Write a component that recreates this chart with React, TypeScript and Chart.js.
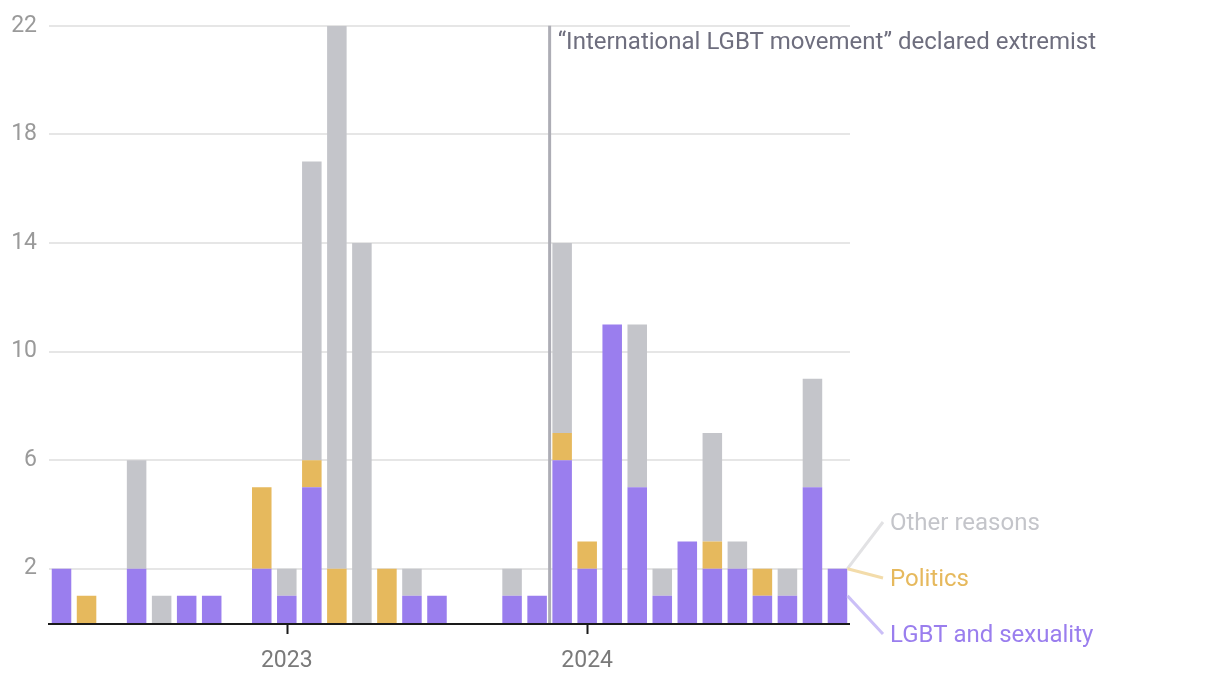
import React, { useEffect, useRef } from "react";
import { Chart, registerables } from "chart.js";

Chart.register(...registerables);

const months = [
  "2022-04", "2022-05", "2022-06", "2022-07", "2022-08", "2022-09", "2022-10", "2022-11", "2022-12",
  "2023-01", "2023-02", "2023-03", "2023-04", "2023-05", "2023-06", "2023-07", "2023-08", "2023-09",
  "2023-10", "2023-11", "2023-12",
  "2024-01", "2024-02", "2024-03", "2024-04", "2024-05", "2024-06", "2024-07", "2024-08", "2024-09",
  "2024-10", "2024-11",
];

const lgbt = [2, 0, 0, 2, 0, 1, 1, 0, 2, 1, 5, 0, 0, 0, 1, 1, 0, 0, 1, 1, 6, 2, 11, 5, 1, 3, 2, 2, 1, 1, 5, 2];
const politics = [0, 1, 0, 0, 0, 0, 0, 0, 3, 0, 1, 2, 0, 2, 0, 0, 0, 0, 0, 0, 1, 1, 0, 0, 0, 0, 1, 0, 1, 0, 0, 0];
const other = [0, 0, 0, 4, 1, 0, 0, 0, 0, 1, 11, 20, 14, 0, 1, 0, 0, 0, 1, 0, 7, 0, 0, 6, 1, 0, 4, 1, 0, 1, 4, 0];

const yTicks = [2, 6, 10, 14, 18, 22];
const seriesNames = ["LGBT and sexuality", "Politics", "Other reasons"];
const annotationText = "\u201cInternational LGBT movement\u201d declared extremist";
const annotationBetween = [19, 20];

const COLORS = {
  lgbt: "#9a7eee",
  politics: "#e6b95d",
  other: "#c4c5ca",
};

const FONT = "Roboto, 'Noto Sans', sans-serif";

export default function App() {
  const ref = useRef<HTMLCanvasElement | null>(null);

  useEffect(() => {
    if (!ref.current) return;

    const overlay = {
      id: "overlay",
      beforeDatasetsDraw(chart: any) {
        const ctx = chart.ctx;
        const xs = chart.scales.x;
        const area = chart.chartArea;
        const x = (xs.getPixelForValue(annotationBetween[0]) + xs.getPixelForValue(annotationBetween[1])) / 2;
        ctx.save();
        ctx.strokeStyle = "#adadb5";
        ctx.lineWidth = 3;
        ctx.beginPath();
        ctx.moveTo(x, area.top);
        ctx.lineTo(x, area.bottom);
        ctx.stroke();
        ctx.restore();
      },
      afterDraw(chart: any) {
        const ctx = chart.ctx;
        const xs = chart.scales.x;
        const ys = chart.scales.y;
        const area = chart.chartArea;
        ctx.save();
        // bottom axis line
        ctx.strokeStyle = "#1a1a1a";
        ctx.lineWidth = 2;
        ctx.beginPath();
        ctx.moveTo(area.left - 1, area.bottom + 1);
        ctx.lineTo(area.right, area.bottom + 1);
        ctx.stroke();
        // year ticks
        months.forEach((m, i) => {
          if (m.endsWith("-01")) {
            const x = Math.round(xs.getPixelForValue(i)) + 0.5;
            ctx.beginPath();
            ctx.moveTo(x, area.bottom);
            ctx.lineTo(x, area.bottom + 11);
            ctx.stroke();
          }
        });
        // annotation text
        const ax = (xs.getPixelForValue(annotationBetween[0]) + xs.getPixelForValue(annotationBetween[1])) / 2;
        ctx.fillStyle = "#6e6e7e";
        ctx.font = `24px ${FONT}`;
        ctx.textAlign = "left";
        ctx.textBaseline = "alphabetic";
        ctx.fillText(annotationText, ax + 8, area.top + 23);

        // legend labels with connectors
        const last = months.length - 1;
        const xr = xs.getPixelForValue(last) + 10;
        const lx = area.right + 40;
        const lv = lgbt[last];
        const pv = politics[last];
        const ov = other[last];
        const items = [
          { name: seriesNames[2], color: "#c4c5ca", line: "#e2e2e4", from: ys.getPixelForValue(lv + pv + ov), ty: 522 },
          { name: seriesNames[1], color: "#e6b95d", line: "#f3dcaa", from: ys.getPixelForValue(lv + pv), ty: 578 },
          { name: seriesNames[0], color: "#9a7eee", line: "#cbbff7", from: ys.getPixelForValue(lv / 2), ty: 634 },
        ];
        items.forEach((it) => {
          ctx.strokeStyle = it.line;
          ctx.lineWidth = 3;
          ctx.beginPath();
          ctx.moveTo(xr, it.from);
          ctx.lineTo(lx - 7, it.ty);
          ctx.stroke();
          ctx.fillStyle = it.color;
          ctx.font = `24px ${FONT}`;
          ctx.textBaseline = "middle";
          ctx.fillText(it.name, lx, it.ty + 2);
        });
        ctx.restore();
      },
    };

    const chart = new Chart(ref.current, {
      type: "bar",
      data: {
        labels: months,
        datasets: [
          { label: seriesNames[0], data: lgbt, backgroundColor: COLORS.lgbt },
          { label: seriesNames[1], data: politics, backgroundColor: COLORS.politics },
          { label: seriesNames[2], data: other, backgroundColor: COLORS.other },
        ],
      },
      options: {
        responsive: false,
        animation: false,
        layout: { padding: { top: 24, right: 370, left: 0, bottom: 0 } },
        datasets: { bar: { barPercentage: 0.78, categoryPercentage: 1, borderWidth: 0 } },
        plugins: { legend: { display: false }, tooltip: { enabled: false } },
        scales: {
          x: {
            stacked: true,
            grid: { display: false, drawTicks: false },
            border: { display: false },
            ticks: {
              autoSkip: false,
              maxRotation: 0,
              padding: 24,
              color: "#7a7a7a",
              font: { family: FONT, size: 23 },
              callback: (v: any, i: number) => (months[i].endsWith("-01") ? months[i].slice(0, 4) : ""),
            },
            afterFit: (s: any) => {
              s.height = 67;
            },
          },
          y: {
            stacked: true,
            min: 0,
            max: 22,
            grid: { color: "#e6e6e6", lineWidth: 2, drawTicks: false },
            border: { display: false },
            afterBuildTicks: (s: any) => {
              s.ticks = yTicks.map((v) => ({ value: v }));
            },
            ticks: {
              padding: 12,
              color: "#9a9a9a",
              font: { family: FONT, size: 23 },
            },
            afterFit: (s: any) => {
              s.width = 49;
            },
          },
        },
      },
      plugins: [overlay],
    });

    return () => chart.destroy();
  }, []);

  return (
    <div style={{ position: "fixed", left: 0, top: 0, width: 1220, height: 690, background: "#fff" }}>
      <canvas ref={ref} width={1220} height={690} />
    </div>
  );
}
